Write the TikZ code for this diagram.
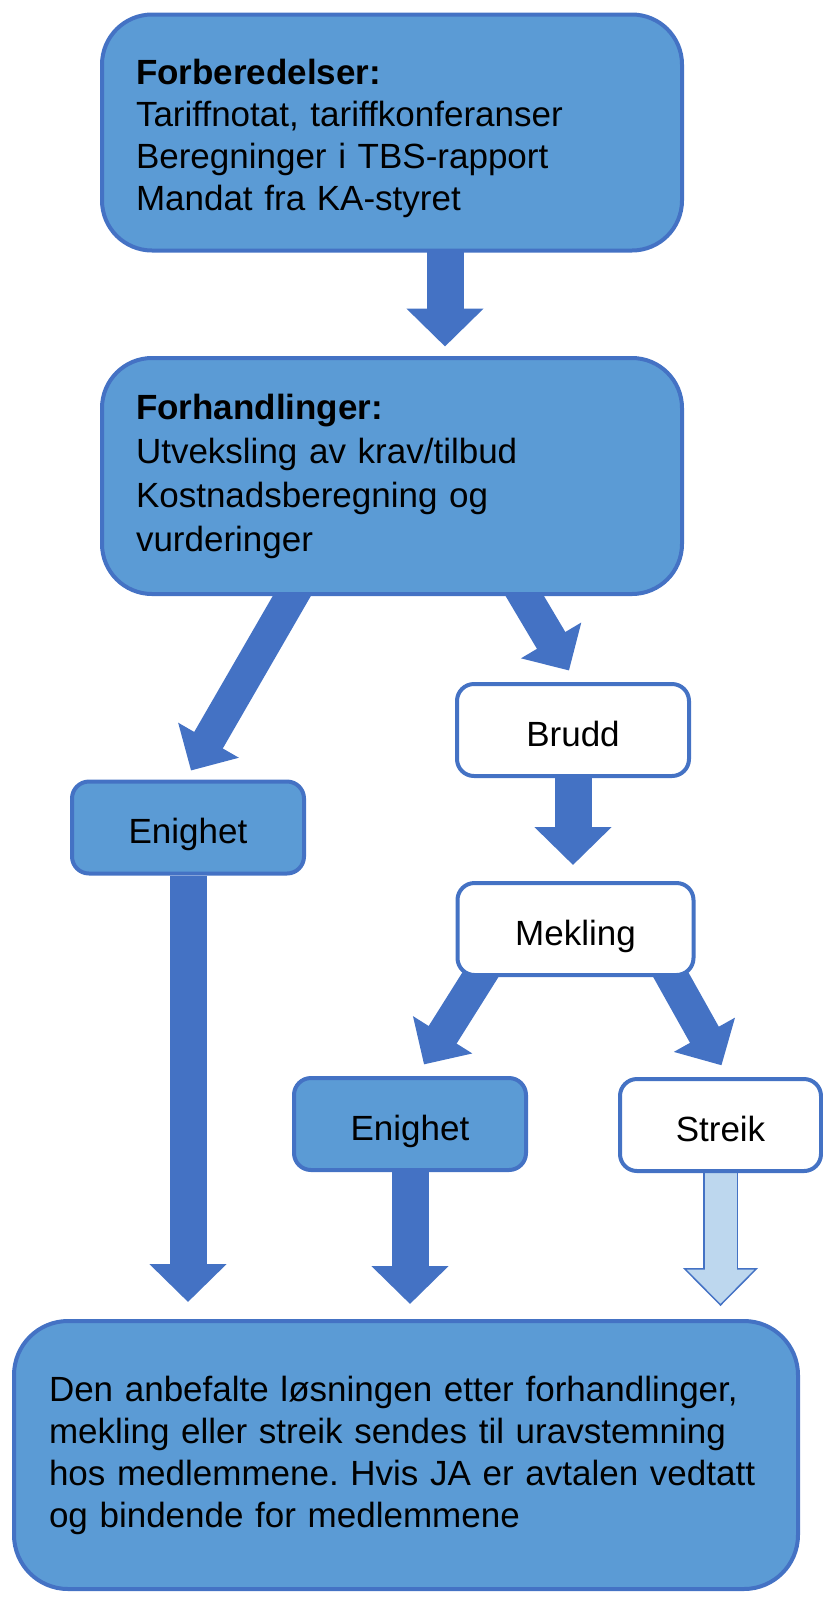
\documentclass[tikz,border=0pt]{standalone}
\usepackage{fontspec}
\setmainfont{Liberation Sans}
\usetikzlibrary{arrows.meta,calc}
\definecolor{boxblue}{HTML}{5B9BD5}
\definecolor{lineblue}{HTML}{4472C4}
\definecolor{paleblue}{HTML}{BDD7EE}
\pgfdeclarelayer{background}
\pgfsetlayers{background,main}
\frenchspacing

\begin{document}
\begin{tikzpicture}[
    x=0.5pt, y=-0.5pt,
    bigbox/.style={
        draw=lineblue,
        fill=boxblue,
        line width=2pt,
        rounded corners=25pt,
        align=left,
        text width=256pt,
        inner xsep=17pt,
        minimum height=118pt,
        font=\fontsize{17.5}{21}\selectfont
    },
    smallbox/.style={
        draw=lineblue,
        fill=white,
        line width=2pt,
        rounded corners=8.5pt,
        minimum width=116pt,
        minimum height=46pt,
        text height=16pt,
        text depth=0pt,
        font=\fontsize{17.5}{21}\selectfont
    },
    fat/.style={
        line width=18.5pt,
        draw=lineblue,
        -{Triangle[width=37.5pt,length=19pt]}
    },
    slim/.style={
        line width=16.5pt,
        draw=lineblue,
        -{Triangle[width=34pt,length=17.5pt]}
    }
]
\useasboundingbox (0,0) rectangle (823,1597);

% Preparations
\node[bigbox] (prep) at (392,132.5)
{\rule{0pt}{19pt}\textbf{Forberedelser:}\\Tariffnotat, tariffkonferanser\\Beregninger i TBS-rapport\\Mandat fra KA-styret};

% Negotiations
\node[bigbox, font=\fontsize{17.5}{22}\selectfont] (forh) at (392,476)
{\textbf{Forhandlinger:}\\Utveksling av krav/tilbud\\Kostnadsberegning og\\vurderinger};

% Outcomes
\node[smallbox, fill=boxblue] (enig) at (188,827.5) {Enighet};
\node[smallbox] (brudd) at (573,730) {Brudd};
\node[smallbox, minimum width=118pt] (mekling) at (575.5,929) {Mekling};
\node[smallbox, fill=boxblue] (enig2) at (410,1124) {Enighet};
\node[smallbox, minimum width=100.5pt] (streik) at (720.5,1125) {Streik};

% Ballot
\node[bigbox, text width=357pt, inner xsep=17.5pt, minimum height=134pt, rounded corners=27pt] (final) at (406,1455)
{Den anbefalte løsningen etter forhandlinger,\\mekling eller streik sendes til uravstemning\\hos medlemmene. Hvis JA er avtalen vedtatt\\og bindende for medlemmene};

% Connections
\begin{pgfonlayer}{background}
\draw[fat] ($(prep.center)+(53,0)$) -- ($(forh.north)+(53,-9.5)$);

\draw[slim] ($(forh.south)+(-80,-35)$) -- ($(enig.north)+(3,-9)$);
\draw[slim] ($(forh.south)+(112,-35)$) -- ($(brudd.north)+(-4,-11.5)$);

\draw[fat, shorten >=8pt] (brudd) -- (brudd |- mekling.north);

\draw[slim] ($(mekling.south)+(-74.5,-35)$) -- ($(enig2.north)+(14,-11.6)$);
\draw[slim] ($(mekling.south)+(77,-35)$) -- ($(streik.north)+(1,-11.7)$);

\draw[fat, shorten >=8.5pt] (enig) -- (enig |- final.north);
\draw[fat, shorten >=7.5pt] (enig2) -- (enig2 |- final.north);

% hollow arrow from Streik
\draw[fat, line width=17.5pt, -{Triangle[width=37.5pt,length=19pt,fill=paleblue,line width=0.75pt]}, shorten >=6.5pt] (streik) -- (streik |- final.north);
\draw[line width=16pt, paleblue, shorten >=24.5pt] (streik) -- (streik |- final.north);
\end{pgfonlayer}

\end{tikzpicture}
\end{document}
